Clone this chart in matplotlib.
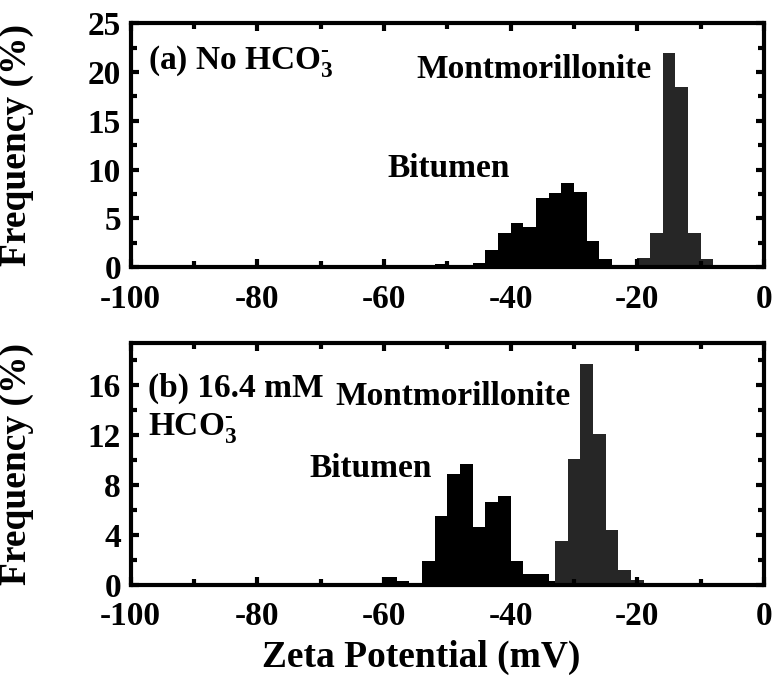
import matplotlib
matplotlib.use("Agg")
import matplotlib.pyplot as plt
from matplotlib.ticker import MultipleLocator

plt.rcParams['font.family'] = ['Liberation Serif', 'DejaVu Serif']
plt.rcParams['font.weight'] = 'bold'
plt.rcParams['mathtext.fontset'] = 'custom'
plt.rcParams['mathtext.rm'] = 'Liberation Serif:bold'
plt.rcParams['mathtext.it'] = 'Liberation Serif:bold'
plt.rcParams['mathtext.bf'] = 'Liberation Serif:bold'
plt.rcParams['axes.unicode_minus'] = False

# (a) no bicarbonate: bin edges (mV) and frequencies (%)
bitumen_a_edges = [-52, -50, -48, -46, -44, -42, -40, -38, -36, -34, -32, -30, -28, -26, -24]
bitumen_a_freq = [0.3, 0.2, 0.2, 0.4, 1.75, 3.5, 4.5, 4.1, 7.1, 7.6, 8.6, 7.7, 2.7, 0.8]
mont_a_edges = [-20, -18, -16, -14, -12, -10, -8]
mont_a_freq = [0.9, 3.5, 21.9, 18.5, 3.5, 0.8]

# (b) 16.4 mM bicarbonate
bitumen_b_edges = [-60, -58, -56, -54, -52, -50, -48, -46, -44, -42, -40, -38, -36, -34, -32]
bitumen_b_freq = [0.6, 0.3, 0.0, 1.9, 5.5, 8.9, 9.7, 4.6, 6.6, 7.1, 1.9, 0.9, 0.9, 0.3]
mont_b_edges = [-33, -31, -29, -27, -25, -23, -21, -19]
mont_b_freq = [3.5, 10.1, 17.7, 12.1, 4.4, 1.2, 0.4]

hco3 = r'HCO$_3^{\text{-}}$'

fig = plt.figure(figsize=(7.78, 6.8), dpi=100)
ax1 = fig.add_axes([0.168, 0.607, 0.814, 0.359])
ax2 = fig.add_axes([0.168, 0.140, 0.814, 0.356])


def style_axes(ax, ymax, ymajor):
    ax.set_xlim(-100, 0)
    ax.set_ylim(0, ymax)
    ax.xaxis.set_major_locator(MultipleLocator(20))
    ax.xaxis.set_minor_locator(MultipleLocator(10))
    ax.yaxis.set_major_locator(MultipleLocator(ymajor))
    ax.yaxis.set_minor_locator(MultipleLocator(ymajor / 2))
    ax.tick_params(which='both', direction='in', top=True, right=True,
                   width=3, labelsize=24)
    ax.tick_params(axis='x', pad=12)
    ax.tick_params(axis='y', pad=7)
    ax.tick_params(which='major', length=6)
    ax.tick_params(which='minor', length=4)
    for s in ax.spines.values():
        s.set_linewidth(3)
    for lab in ax.get_xticklabels() + ax.get_yticklabels():
        lab.set_fontweight('bold')
    ax.set_ylabel('Frequency (%)', fontsize=27, fontweight='bold')
    ax.yaxis.set_label_coords(-0.152, 0.5)


ax1.stairs(bitumen_a_freq, bitumen_a_edges, fill=True, color='black')
ax1.stairs(mont_a_freq, mont_a_edges, fill=True, color='#262626')
style_axes(ax1, 25, 5)
ax1.text(-97.3, 20.3, '(a) No ' + hco3, fontsize=24, fontweight='bold', va='baseline')
ax1.text(-17.7, 19.4, 'Montmorillonite', fontsize=24, fontweight='bold',
         ha='right', va='baseline')
ax1.text(-40.1, 9.25, 'Bitumen', fontsize=24, fontweight='bold', ha='right', va='baseline')

ax2.stairs(bitumen_b_freq, bitumen_b_edges, fill=True, color='black')
ax2.stairs(mont_b_freq, mont_b_edges, fill=True, color='#262626')
style_axes(ax2, 19.4, 4)
ax2.text(-97.3, 15.1, '(b) 16.4 mM', fontsize=24, fontweight='bold', va='baseline')
ax2.text(-97.3, 12.0, hco3, fontsize=24, fontweight='bold', va='baseline')
ax2.text(-30.6, 14.4, 'Montmorillonite', fontsize=24, fontweight='bold',
         ha='right', va='baseline')
ax2.text(-52.4, 8.6, 'Bitumen', fontsize=24, fontweight='bold', ha='right', va='baseline')
ax2.set_xlabel('Zeta Potential (mV)', fontsize=27, fontweight='bold')
ax2.xaxis.set_label_coords(0.458, -0.227)

fig.savefig('out.png', dpi=100)
